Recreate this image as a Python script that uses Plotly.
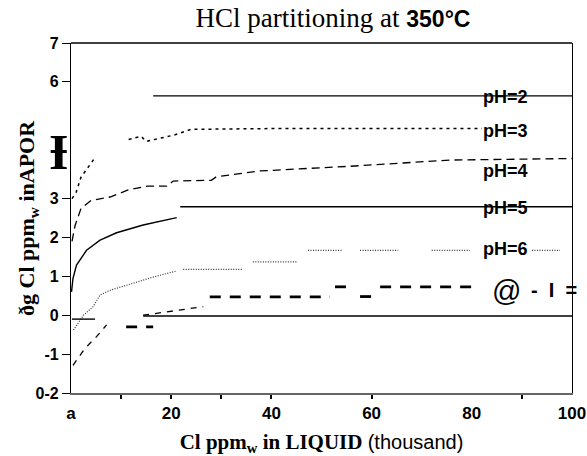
import plotly.graph_objects as go

# ---- data ----
ph2_x = [16.4, 100]
ph2_y = [5.64, 5.64]

ph3_x = [0.2, 1.0, 2.0, 4.5, None, 11.5, 14.0, 15.0, 20.5, 24.0, 40, 60, 82]
ph3_y = [3.0, 3.15, 3.55, 4.0, None, 4.52, 4.6, 4.47, 4.63, 4.78, 4.8, 4.8, 4.8]

ph4_x = [0.2, 0.8, 2.0, 4.0, 7.8, 11.4, 15.2, 19.1, 20.4, 28, 29, 37.7, 55.7, 75.6, 100]
ph4_y = [1.9, 2.3, 2.75, 2.95, 3.04, 3.22, 3.32, 3.32, 3.45, 3.47, 3.56, 3.71, 3.83, 3.99, 4.03]

ph5_x = [0.1, 0.4, 1.1, 3.1, 5.8, 9.1, 14.4, 21.1, None, 21.8, 100]
ph5_y = [0.6, 0.95, 1.29, 1.67, 1.93, 2.12, 2.32, 2.51, None, 2.79, 2.79]

ph6_x = [0.5, 2.5, 4.4, 5.8, 8.0, 11.1, 16.4, 21.1, None, 22.4, 34.1, None, 36.3, 45.3,
         None, 47.3, 54, None, 57.7, 65.3, None, 72, 79.6, None, 92, 97.6]
ph6_y = [-0.38, 0.0, 0.22, 0.52, 0.65, 0.77, 0.98, 1.14, None, 1.18, 1.18, None, 1.37, 1.37,
         None, 1.67, 1.67, None, 1.67, 1.67, None, 1.67, 1.67, None, 1.67, 1.67]

ph7_curve_x = [0.4, 2.8, 5.1, 7.1, None, 14.4, 20.0, 26.4]
ph7_curve_y = [-1.29, -0.85, -0.55, -0.25, None, 0.0, 0.1, 0.22]

ph7_flat_x = [11, 16.4, None, 27.7, 51.7, None, 52.7, 55, None, 57.7, 60, None, 61.7, 81]
ph7_flat_y = [-0.3, -0.3, None, 0.47, 0.47, None, 0.73, 0.73, None, 0.48, 0.48, None, 0.73, 0.73]

ph8_x = [0.2, 4.8, None, 14.4, 100]
ph8_y = [-0.1, -0.1, None, -0.02, -0.02]

label_text = ["pH=2", "pH=3", "pH=4", "pH=5", "pH=6"]
label_x = [86.8, 86.8, 86.8, 86.8, 86.8]
label_y = [5.62, 4.73, 3.70, 2.75, 1.70]

x_tickvals = [0, 20, 40, 60, 80, 100]
x_ticktext = ["a", "20", "40", "60", "80", "100"]
x_minor_ticks = [10, 20, 30, 40, 60, 90]
y_tickvals = [7, 6, 3, 2, 1, 0, -1, -2]
y_ticktext = ["7", "6", "3", "2", "1", "0", "-1", "0-2"]

fig = go.Figure()

def add(x, y, dash, width, color="black"):
    fig.add_trace(go.Scatter(x=x, y=y, mode="lines", connectgaps=False,
                             line=dict(color=color, width=width, dash=dash),
                             showlegend=False, hoverinfo="skip"))

add(ph2_x, ph2_y, "solid", 1.2)
add(ph3_x, ph3_y, "3px,4px", 1.5)
add(ph4_x, ph4_y, "8px,5px", 1.3)
add(ph5_x, ph5_y, "solid", 1.4)
add(ph6_x, ph6_y, "1px,1.5px", 1.2, "#333")
add(ph7_curve_x, ph7_curve_y, "6px,6px", 1.3)
add(ph7_flat_x, ph7_flat_y, "11px,9px", 2.8)
add(ph8_x, ph8_y, "solid", 1.4)

SANS = "Liberation Sans, Arial"
SERIF = "Liberation Serif, Times New Roman"

lab_font = dict(family=SANS, size=18, color="black")
for t, lx, ly in zip(label_text, label_x, label_y):
    fig.add_annotation(x=lx, y=ly, text="<b>" + t + "</b>", showarrow=False,
                       xanchor="center", yanchor="middle", font=lab_font)

fig.add_annotation(x=87.0, y=0.63, text="@", showarrow=False, xanchor="center",
                   yanchor="middle", font=dict(family=SANS, size=29, color="black"))
fig.add_annotation(x=91.4, y=0.65, text="<b>-  I  =</b>", showarrow=False, xanchor="left",
                   yanchor="middle", font=dict(family=SANS, size=20, color="black"))
fig.add_annotation(xref="paper", yref="paper", x=-0.024, y=0.69, text="<b>Ɨ</b>", showarrow=False,
                   xanchor="center", yanchor="middle",
                   font=dict(family=SERIF, size=50, color="black"))
# y-axis title placed as rotated annotation
fig.add_annotation(xref="paper", yref="paper", x=(28 - 71) / 501, y=0.5,
                   text="<b>ðg Cl ppm<sub>w</sub> inAPOR</b>", showarrow=False,
                   textangle=-90, xanchor="center", yanchor="middle",
                   font=dict(family=SERIF, size=22, color="black"))

fig.update_layout(
    width=587, height=456,
    margin=dict(l=71, r=15, t=43, b=63),
    paper_bgcolor="white", plot_bgcolor="white",
    title=dict(
        text='HCl partitioning at <span style="font-family:Liberation Sans, Arial;font-weight:bold;font-size:23px">350°C</span>',
        font=dict(family=SERIF, size=27, color="black"),
        x=333 / 587, xanchor="center", xref="container",
        y=1 - 18 / 456, yanchor="middle", yref="container"),
    xaxis=dict(range=[0, 100], showgrid=False, zeroline=False, automargin=False,
               showline=True, linecolor="#666", linewidth=1.5,
               tickvals=x_tickvals, ticktext=["<b>" + t + "</b>" for t in x_ticktext], ticks="",
               minor=dict(tickvals=x_minor_ticks, ticks="outside", ticklen=4,
                          tickwidth=2, tickcolor="black"),
               tickfont=dict(family=SANS, size=17, color="black"),
               ticklabelstandoff=4,
               title=dict(text='<b>Cl ppm<sub>w</sub> in LIQUID</b> <span style="font-family:Liberation Sans, Arial;font-size:20px">(thousand)</span>',
                          font=dict(family=SERIF, size=21, color="black"),
                          standoff=12)),
    yaxis=dict(range=[-2, 7], showgrid=False, zeroline=False, automargin=False,
               showline=True, linecolor="black", linewidth=1.3, mirror=True,
               tickvals=y_tickvals, ticktext=["<b>" + t + "</b>" for t in y_ticktext],
               ticks="outside", ticklen=8, tickcolor="black", tickwidth=1,
               tickfont=dict(family=SANS, size=16, color="black")),
    shapes=[dict(type="line", xref="paper", yref="paper", x0=0, x1=1, y0=1, y1=1,
                 line=dict(color="black", width=1.3))],
)

fig.write_html("out.html", config={"displayModeBar": False},
               post_script="document.body.style.margin='0';")
